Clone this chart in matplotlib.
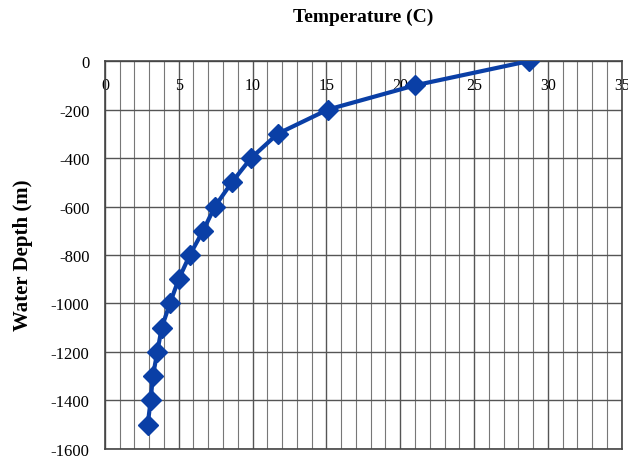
import matplotlib.pyplot as plt
from matplotlib.ticker import MultipleLocator

# temperature profile
depth = [0, -100, -200, -300, -400, -500, -600, -700, -800, -900, -1000,
         -1100, -1200, -1300, -1400, -1500]
temperature = [28.7, 21.0, 15.1, 11.7, 9.9, 8.6, 7.45, 6.65, 5.75, 5.0, 4.4,
               3.85, 3.55, 3.25, 3.1, 2.9]

plt.rcParams['font.family'] = ['Liberation Serif', 'DejaVu Serif']
plt.rcParams['axes.unicode_minus'] = False

fig = plt.figure(figsize=(6.28, 4.6), dpi=100)
ax = fig.add_axes([0.167, 0.022, 0.823, 0.843])

ax.plot(temperature, depth, color='#0a3fa6', linewidth=3, marker='D',
        markersize=10.5, zorder=3)

ax.set_xlim(0, 35)
ax.set_ylim(-1600, 0)
ax.xaxis.set_major_locator(MultipleLocator(5))
ax.xaxis.set_minor_locator(MultipleLocator(1))
ax.yaxis.set_major_locator(MultipleLocator(200))

ax.grid(which='major', color='#555555', linewidth=1.0)
ax.grid(which='minor', axis='x', color='#777777', linewidth=0.8)
ax.set_axisbelow(True)

ax.tick_params(axis='x', which='both', top=False, bottom=False, labelbottom=False,
               labeltop=True, length=0, pad=-23, labelsize=11.5)
ax.tick_params(axis='y', length=0, pad=11, labelsize=12)
for s in ax.spines.values():
    s.set_color('#444444')
    s.set_linewidth(1.2)

fig.text(0.579, 0.963, 'Temperature (C)', ha='center', va='center',
         fontsize=14, fontweight='bold')
fig.text(0.037, 0.446, 'Water Depth (m)', ha='center', va='center',
         rotation=90, fontsize=15, fontweight='bold')

fig.savefig('out.png', dpi=100)
